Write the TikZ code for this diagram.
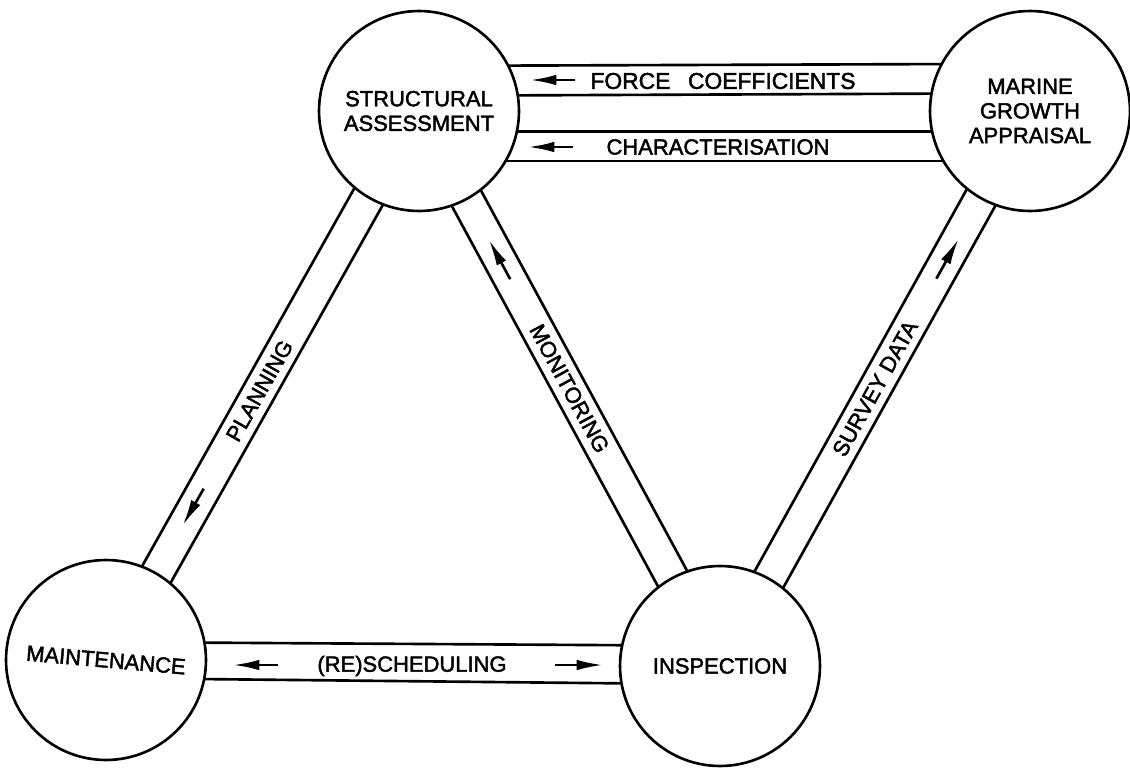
\documentclass[tikz,border=0pt]{standalone}
\usepackage{fontspec}
\setmainfont{Liberation Sans}[FakeBold=2]
\usepackage{graphicx}
\usetikzlibrary{calc,arrows.meta}
\tikzstyle{unit}=[draw, circle, line width=1.5pt, minimum size=4cm, inner sep=0pt, outer sep=0pt, align=center, font=\fontsize{12.5}{14}\selectfont]
\tikzstyle{band}=[line width=1.5pt]
\tikzstyle{flow}=[-{Latex[length=15pt,width=6pt]}, line width=1.5pt]
\tikzstyle{tag}=[font=\fontsize{12.5}{14}\selectfont, inner sep=0pt]
% one wall of a channel: from-node, to-node, direction, offset angle
\newcommand{\bandline}[4]{
  \pgfmathsetmacro{\angA}{#3+(#4)}
  \pgfmathsetmacro{\angB}{#3+180-(#4)}
  \draw[band] (#1.\angA) -- (#2.\angB);
}
\newcommand{\band}[4]{
  \bandline{#1}{#2}{#3}{#4}
  \bandline{#1}{#2}{#3}{-#4}
}

\begin{document}
\begin{tikzpicture}[x=0.02cm, y=-0.02cm]
    \useasboundingbox (0,0) rectangle (1130,771);
    \node[unit] (assess) at (419,111) {STRUCTURAL\\ASSESSMENT};
    \node[unit] (growth) at (1030,111) {MARINE\\GROWTH\\APPRAISAL};
    \node[unit] (maint) at (106,660) {\rotatebox{-5}{MAINTENANCE}};
    \node[unit] (insp) at (720,666) {INSPECTION};
    % channels
    \bandline{assess}{growth}{0}{27.4}
    \bandline{assess}{growth}{0}{9.2}
    \bandline{assess}{growth}{0}{-12.1}
    \bandline{assess}{growth}{0}{-30.7}
    \band{assess}{maint}{240.3}{9.5}
    \band{assess}{insp}{-61.5}{9.5}
    \band{insp}{growth}{60.8}{9.5}
    \band{maint}{insp}{-0.56}{11}
    % labels
    \node[tag] (force) at (723,81) {\fontsize{13}{14}\selectfont FORCE\hspace{10pt}COEFFICIENTS};
    \node[tag] (charac) at (718,147) {CHARACTERISATION};
    \node[tag] (sched) at (412,666) {(RE)SCHEDULING};
    \path (assess) -- (maint) node[tag, sloped, pos=0.514] (plan) {PLANNING};
    \path (assess) -- (insp) node[tag, sloped, pos=0.5] (mon) {MONITORING};
    \path (insp) -- (growth) node[tag, sloped, pos=0.5] (surv) {SURVEY DATA};
    % direction arrows
    \coordinate (fa) at (575,80);
    \coordinate (fb) at (530,80);
    \coordinate (ca) at (573,147);
    \coordinate (cb) at (528,147);
    \coordinate (sa) at (278,665);
    \coordinate (sb) at (233,665);
    \coordinate (sc) at (555,665);
    \coordinate (sd) at (603,665);
    \coordinate (pa) at ($(assess)!0.688!(maint)$);
    \coordinate (pb) at ($(assess)!0.755!(maint)$);
    \coordinate (ma) at ($(assess)!0.303!(insp)$);
    \coordinate (mb) at ($(assess)!0.232!(insp)$);
    \coordinate (va) at ($(insp)!0.698!(growth)$);
    \coordinate (vb) at ($(insp)!0.77!(growth)$);
    \draw[flow] (fa) -- (fb);
    \draw[flow] (ca) -- (cb);
    \draw[flow] (sa) -- (sb);
    \draw[flow] (sc) -- (sd);
    \draw[flow] (pa) -- (pb);
    \draw[flow] (ma) -- (mb);
    \draw[flow] (va) -- (vb);
\end{tikzpicture}
\end{document}
